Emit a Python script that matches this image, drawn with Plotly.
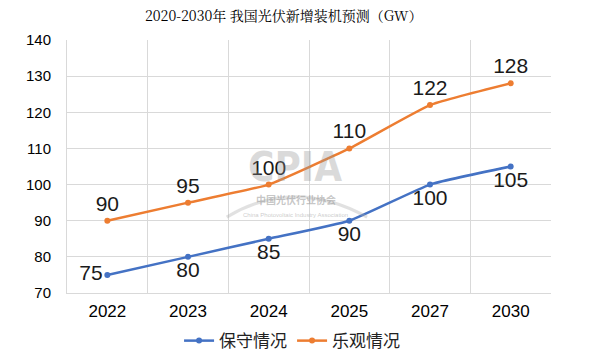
import plotly.graph_objects as go

years = ["2022", "2023", "2024", "2025", "2027", "2030"]
conservative = [75, 80, 85, 90, 100, 105]
optimistic = [90, 95, 100, 110, 122, 128]
y_ticks = [70, 80, 90, 100, 110, 120, 130, 140]

blue = "#4472C4"
orange = "#ED7D31"
label_font = dict(family="Liberation Sans, Arial", size=21, color="#1a1a1a")

fig = go.Figure()
fig.add_trace(go.Scatter(
    x=years, y=conservative, name="保守情况", mode="lines+markers+text",
    line=dict(color=blue, width=2.5, shape="spline", smoothing=0.4),
    marker=dict(size=6, color=blue),
    text=[str(v) for v in conservative],
    textposition=["middle left", "bottom center", "bottom center", "bottom center", "bottom center", "bottom center"],
    textfont=label_font,
))
fig.add_trace(go.Scatter(
    x=years, y=optimistic, name="乐观情况", mode="lines+markers+text",
    line=dict(color=orange, width=2.5, shape="spline", smoothing=0.4),
    marker=dict(size=6, color=orange),
    text=[str(v) for v in optimistic],
    textposition="top center",
    textfont=label_font,
))

# watermark
wm = "rgba(150,150,150,0.35)"
fig.add_shape(type="path", xref="paper", yref="paper",
              path="M 0.33,0.30 Q 0.47,0.46 0.62,0.30",
              line=dict(color="rgba(170,170,170,0.35)", width=3))
fig.add_annotation(x=0.471, y=0.50, xref="paper", yref="paper", text="<b>CPIA</b>",
                   showarrow=False, font=dict(family="DejaVu Sans Condensed, Liberation Sans Narrow, Liberation Sans",
                                              size=40, color=wm))
fig.add_annotation(x=0.473, y=0.332, xref="paper", yref="paper", text="<b>中国光伏行业协会</b>",
                   showarrow=False, font=dict(family="Noto Sans CJK SC", size=10, color="rgba(150,150,150,0.55)"))
fig.add_annotation(x=0.473, y=0.29, xref="paper", yref="paper", text="China Photovoltaic Industry Association",
                   showarrow=False, font=dict(family="Liberation Sans Narrow, Liberation Sans", size=6,
                                              color="rgba(150,150,150,0.5)"))

fig.update_layout(
    width=591, height=354,
    margin=dict(l=67, r=40, t=40, b=61, autoexpand=False),
    paper_bgcolor="white", plot_bgcolor="white",
    title=dict(text="2020-2030年 我国光伏新增装机预测（GW）", x=0.48, xanchor="center", y=0.955, yanchor="middle",
               font=dict(family="Noto Serif CJK SC, Noto Sans CJK SC", size=14, color="#000")),
    showlegend=True,
    legend=dict(orientation="h", x=0.465, xanchor="center", y=-0.19, yanchor="middle",
                font=dict(family="Noto Sans CJK SC", size=17, color="#222"), itemwidth=30,
                tracegroupgap=0, borderwidth=0),
    xaxis=dict(type="category", range=[-0.5, 5.5], tickson="boundaries", showgrid=True,
               gridcolor="#d9d9d9", gridwidth=1,
               ticks="", showline=True, linecolor="#d9d9d9", automargin=False, ticklabelstandoff=3,
               tickfont=dict(family="Liberation Sans, Arial", size=17, color="#000")),
    yaxis=dict(range=[70, 140], tickvals=y_ticks, showgrid=True, gridcolor="#d9d9d9", gridwidth=1,
               showline=True, linecolor="#d9d9d9", zeroline=False, ticks="", ticklabelstandoff=12,
               automargin=False,
               tickfont=dict(family="Liberation Sans, Arial", size=15, color="#000")),
)
fig.write_html("out.html")
